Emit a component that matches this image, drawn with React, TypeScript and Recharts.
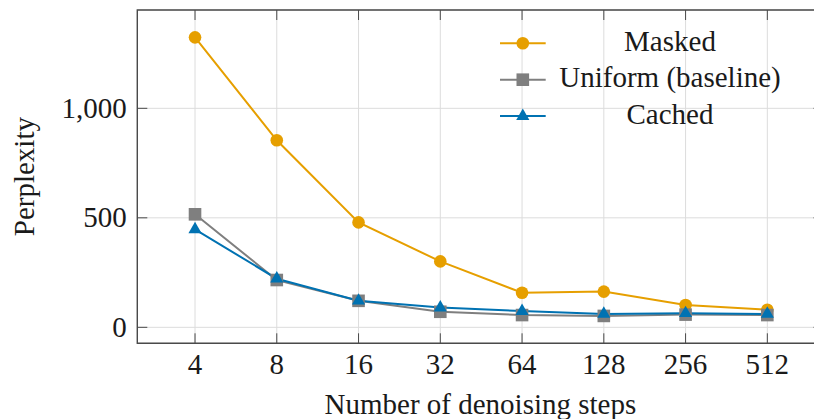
import React from "react";
import {
  LineChart,
  Line,
  XAxis,
  YAxis,
  CartesianGrid,
  ReferenceArea,
  Legend,
} from "recharts";

// ---------------------------------------------------------------------------
// Data
// ---------------------------------------------------------------------------

const steps = [4, 8, 16, 32, 64, 128, 256, 512];
const masked = [1324, 854, 479, 301, 158, 163, 102, 80];
const uniform = [516, 216, 121, 71, 56, 52, 58, 56];
const cached = [447, 222, 121, 90, 74, 61, 64, 61];
const yTicks = [0, 500, 1000];

// steps are plotted on a log2 axis
const xTicks = steps.map((s) => Math.log2(s));

const data = steps.map((s, i) => ({
  x: Math.log2(s),
  masked: masked[i],
  uniform: uniform[i],
  cached: cached[i],
}));

// ---------------------------------------------------------------------------
// Layout / style
// ---------------------------------------------------------------------------

const CHART_W = 824;
const CHART_H = 419;
const PLOT_LEFT = 137.3;
const PLOT_TOP = 10;
const PLOT_BOTTOM = 343.3;
const PLOT_RIGHT = 823.5;
const X_DOMAIN: [number, number] = [1.294, 9.687];
const Y_DOMAIN: [number, number] = [-73, 1449];

const FONT = "'Liberation Serif', 'Times New Roman', serif";
const FONT_SIZE = 29;
const TEXT = "#1a1a1a";
const FRAME = "#4a4a4a";
const GRID = "#dcdcdc";
const TICK_LEN = 10;

type Marker = "circle" | "square" | "triangle";

const SERIES: { key: string; name: string; color: string; marker: Marker }[] = [
  { key: "masked", name: "Masked", color: "#E69F00", marker: "circle" },
  { key: "uniform", name: "Uniform (baseline)", color: "#7f7f7f", marker: "square" },
  { key: "cached", name: "Cached", color: "#0072B2", marker: "triangle" },
];

function markerShape(kind: Marker, cx: number, cy: number, color: string, key?: string) {
  if (kind === "circle") return <circle key={key} cx={cx} cy={cy} r={6.3} fill={color} />;
  if (kind === "square")
    return <rect key={key} x={cx - 6.3} y={cy - 6.3} width={12.6} height={12.6} fill={color} />;
  const r = 7.6;
  const pts = [
    [cx, cy - r],
    [cx + r * 0.866, cy + r / 2],
    [cx - r * 0.866, cy + r / 2],
  ]
    .map((p) => p.join(","))
    .join(" ");
  return <polygon key={key} points={pts} fill={color} />;
}

// ---------------------------------------------------------------------------
// Axis ticks (inward tick marks on both sides of the frame)
// ---------------------------------------------------------------------------

function XTick({ x, y, payload }: any) {
  return (
    <g>
      <line x1={x} x2={x} y1={y} y2={y - TICK_LEN} stroke={FRAME} strokeWidth={1} />
      <line x1={x} x2={x} y1={PLOT_TOP} y2={PLOT_TOP + TICK_LEN} stroke={FRAME} strokeWidth={1} />
      <text x={x} y={y + 31} textAnchor="middle" fontFamily={FONT} fontSize={FONT_SIZE} fill={TEXT}>
        {Math.round(2 ** payload.value)}
      </text>
    </g>
  );
}

function YTick({ x, y, payload }: any) {
  return (
    <g>
      <line x1={x} x2={x + TICK_LEN} y1={y} y2={y} stroke={FRAME} strokeWidth={1} />
      <line x1={PLOT_RIGHT - TICK_LEN} x2={PLOT_RIGHT} y1={y} y2={y} stroke={FRAME} strokeWidth={1} />
      <text x={x - 10.6} y={y + 9.5} textAnchor="end" fontFamily={FONT} fontSize={FONT_SIZE} fill={TEXT}>
        {payload.value.toLocaleString("en-US")}
      </text>
    </g>
  );
}

// ---------------------------------------------------------------------------
// Legend (no box, text centred to the right of the sample)
// ---------------------------------------------------------------------------

function LegendContent() {
  return (
    <svg width={334} height={125} style={{ display: "block" }}>
      {SERIES.map((s, i) => {
        const y = 33.3 + i * 36.4;
        return (
          <g key={s.key}>
            <line x1={20} x2={65.7} y1={y} y2={y} stroke={s.color} strokeWidth={2} />
            {markerShape(s.marker, 42.8, y, s.color)}
            <text x={190} y={y + 7.6} textAnchor="middle" fontFamily={FONT} fontSize={FONT_SIZE} fill={TEXT}>
              {s.name}
            </text>
          </g>
        );
      })}
    </svg>
  );
}

// ---------------------------------------------------------------------------
// Chart
// ---------------------------------------------------------------------------

export default function App() {
  return (
    <div
      style={{
        position: "absolute",
        left: 0,
        top: 0,
        width: 814,
        height: 419,
        overflow: "hidden",
        background: "#fff",
      }}
    >
      <LineChart
        width={CHART_W}
        height={CHART_H}
        data={data}
        margin={{ top: PLOT_TOP, right: CHART_W - PLOT_RIGHT, bottom: 0, left: 0 }}
      >
        <CartesianGrid stroke={GRID} strokeWidth={1} />
        <XAxis
          type="number"
          dataKey="x"
          domain={X_DOMAIN}
          ticks={xTicks}
          allowDataOverflow
          height={CHART_H - PLOT_BOTTOM}
          axisLine={false}
          tickLine={false}
          tickSize={0}
          tickMargin={0}
          tick={<XTick />}
          label={{
            content: ({ viewBox }: any) => (
              <text
                x={viewBox.x + viewBox.width / 2}
                y={414}
                textAnchor="middle"
                fontFamily={FONT}
                fontSize={FONT_SIZE}
                fill={TEXT}
              >
                Number of denoising steps
              </text>
            ),
          }}
        />
        <YAxis
          type="number"
          domain={Y_DOMAIN}
          ticks={yTicks}
          allowDataOverflow
          width={PLOT_LEFT}
          axisLine={false}
          tickLine={false}
          tickSize={0}
          tickMargin={0}
          tick={<YTick />}
          label={{
            content: ({ viewBox }: any) => {
              const cy = viewBox.y + viewBox.height / 2;
              return (
                <text
                  x={34}
                  y={cy}
                  transform={`rotate(-90, 34, ${cy})`}
                  textAnchor="middle"
                  fontFamily={FONT}
                  fontSize={FONT_SIZE}
                  fill={TEXT}
                >
                  Perplexity
                </text>
              );
            },
          }}
        />
        <ReferenceArea
          x1={X_DOMAIN[0]}
          x2={X_DOMAIN[1]}
          y1={Y_DOMAIN[0]}
          y2={Y_DOMAIN[1]}
          fill="none"
          stroke={FRAME}
          strokeWidth={1.4}
          ifOverflow="visible"
        />
        {SERIES.map((s) => (
          <Line
            key={s.key}
            type="linear"
            dataKey={s.key}
            name={s.name}
            stroke={s.color}
            strokeWidth={2}
            isAnimationActive={false}
            activeDot={false}
            dot={(p: any) => markerShape(s.marker, p.cx, p.cy, s.color, `${s.key}-${p.index}`)}
          />
        ))}
        <Legend
          layout="horizontal"
          verticalAlign="middle"
          align="center"
          content={<LegendContent />}
          wrapperStyle={{ left: 480, top: 10, width: 334, height: 125 }}
        />
      </LineChart>
    </div>
  );
}
